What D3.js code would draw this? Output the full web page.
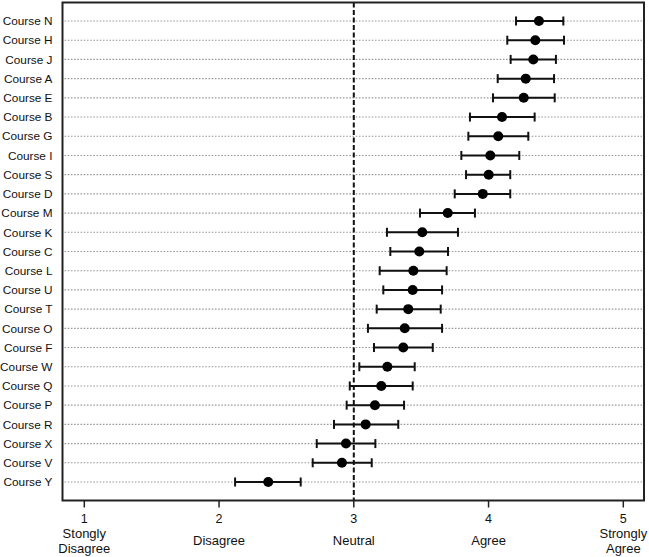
<!DOCTYPE html>
<html>
<head>
<meta charset="utf-8">
<script src="https://cdn.jsdelivr.net/npm/d3@7"></script>
<style>
  body { margin: 0; background: #fff; }
  text { font-family: Arial, "Liberation Sans", sans-serif; fill: #111; }
</style>
</head>
<body>
<div id="app"></div>
<script>
const courses = ["Course N","Course H","Course J","Course A","Course E","Course B","Course G","Course I","Course S","Course D",
  "Course M","Course K","Course C","Course L","Course U","Course T","Course O","Course F","Course W","Course Q",
  "Course P","Course R","Course X","Course V","Course Y"];
const means = [4.374,4.347,4.332,4.276,4.261,4.100,4.072,4.013,4.001,3.957,
  3.697,3.508,3.486,3.442,3.437,3.404,3.378,3.367,3.249,3.204,
  3.157,3.088,2.942,2.912,2.365];
const lower = [4.204,4.139,4.164,4.068,4.033,3.862,3.850,3.798,3.833,3.749,
  3.491,3.246,3.271,3.192,3.219,3.170,3.105,3.150,3.041,2.970,
  2.947,2.853,2.725,2.695,2.119];
const upper = [4.555,4.560,4.500,4.486,4.491,4.342,4.295,4.228,4.161,4.161,
  3.899,3.773,3.699,3.689,3.655,3.645,3.655,3.586,3.452,3.437,
  3.373,3.330,3.160,3.133,2.606];
const tickValues = [1, 2, 3, 4, 5];
const tickLabels = [["1","Stongly","Disagree"], ["2","Disagree"], ["3","Neutral"], ["4","Agree"], ["5","Strongly","Agree"]];
const neutral = 3;

const width = 649, height = 557;
const plot = { left: 62.5, right: 644, top: 2.5, bottom: 500.5 };

const svg = d3.select("#app").append("svg")
  .attr("width", width)
  .attr("height", height);

const x = d3.scaleLinear()
  .domain([1, 5])
  .range([84.3, 623.3]);

const y = d3.scalePoint()
  .domain(courses)
  .range([21, 482]);

const data = courses.map((c, i) => ({ course: c, mean: means[i], lo: lower[i], hi: upper[i] }));

// dotted grid lines per course
svg.append("g")
  .selectAll("line")
  .data(courses)
  .join("line")
  .attr("x1", plot.left + 2)
  .attr("x2", plot.right - 2)
  .attr("y1", d => y(d))
  .attr("y2", d => y(d))
  .style("stroke", "#999")
  .style("stroke-width", 1.1)
  .style("stroke-dasharray", "1.6,1.6");

// neutral line
svg.append("line")
  .attr("x1", x(neutral))
  .attr("x2", x(neutral))
  .attr("y1", plot.top)
  .attr("y2", plot.bottom)
  .style("stroke", "#111")
  .style("stroke-width", 2)
  .style("stroke-dasharray", "5,2.5");

// frame
svg.append("rect")
  .attr("x", plot.left)
  .attr("y", plot.top)
  .attr("width", plot.right - plot.left)
  .attr("height", plot.bottom - plot.top)
  .style("fill", "none")
  .style("stroke", "#222")
  .style("stroke-width", 2);

// y labels
svg.append("g")
  .selectAll("text")
  .data(courses)
  .join("text")
  .attr("x", 52.5)
  .attr("y", d => y(d))
  .attr("dy", "0.36em")
  .attr("text-anchor", "end")
  .style("font-size", "11.8px")
  .text(d => d);

// x ticks
svg.append("g")
  .selectAll("line")
  .data(tickValues)
  .join("line")
  .attr("x1", d => x(d))
  .attr("x2", d => x(d))
  .attr("y1", plot.bottom)
  .attr("y2", plot.bottom + 7)
  .style("stroke", "#222")
  .style("stroke-width", 1.5);

const tl = svg.append("g")
  .selectAll("g")
  .data(tickValues)
  .join("g")
  .attr("transform", d => `translate(${x(d)},0)`);

tl.append("text")
  .attr("y", 518.5)
  .attr("dy", "0.36em")
  .attr("text-anchor", "middle")
  .style("font-size", "12.5px")
  .text((d, i) => tickLabels[i][0]);

tl.each(function (d, i) {
  const lines = tickLabels[i].slice(1);
  const ys = lines.length === 1 ? [540] : [533.5, 548];
  lines.forEach((t, j) => {
    d3.select(this).append("text")
      .attr("y", ys[j])
      .attr("dy", "0.36em")
      .attr("text-anchor", "middle")
      .style("font-size", "13px")
      .text(t);
  });
});

// error bars
const bars = svg.append("g")
  .selectAll("g")
  .data(data)
  .join("g");

bars.append("line")
  .attr("x1", d => x(d.lo))
  .attr("x2", d => x(d.hi))
  .attr("y1", d => y(d.course))
  .attr("y2", d => y(d.course))
  .style("stroke", "#111")
  .style("stroke-width", 2);

bars.append("line")
  .attr("x1", d => x(d.lo))
  .attr("x2", d => x(d.lo))
  .attr("y1", d => y(d.course) - 4.5)
  .attr("y2", d => y(d.course) + 4.5)
  .style("stroke", "#111")
  .style("stroke-width", 2);

bars.append("line")
  .attr("x1", d => x(d.hi))
  .attr("x2", d => x(d.hi))
  .attr("y1", d => y(d.course) - 4.5)
  .attr("y2", d => y(d.course) + 4.5)
  .style("stroke", "#111")
  .style("stroke-width", 2);

bars.append("circle")
  .attr("cx", d => x(d.mean))
  .attr("cy", d => y(d.course))
  .attr("r", 5)
  .style("fill", "#000");
</script>
</body>
</html>
